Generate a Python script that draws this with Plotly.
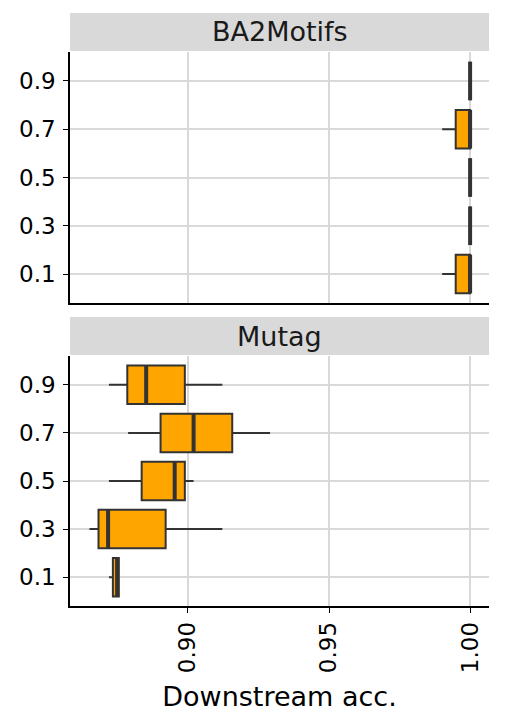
import plotly.graph_objects as go
from plotly.subplots import make_subplots

levels = ["0.1", "0.3", "0.5", "0.7", "0.9"]

# BA2Motifs downstream accuracy (box stats per level)
ba_lower = [0.9901, 1.0, 1.0, 0.9901, 1.0]
ba_q1 = [0.9949, 1.0, 1.0, 0.9949, 1.0]
ba_median = [1.0, 1.0, 1.0, 1.0, 1.0]
ba_q3 = [1.0, 1.0, 1.0, 1.0, 1.0]
ba_upper = [1.0, 1.0, 1.0, 1.0, 1.0]

# Mutag downstream accuracy
mu_lower = [0.8720, 0.8651, 0.8720, 0.8788, 0.8720]
mu_q1 = [0.8734, 0.8683, 0.8836, 0.8903, 0.8785]
mu_median = [0.8749, 0.8717, 0.8953, 0.9020, 0.8852]
mu_q3 = [0.8755, 0.8921, 0.8989, 0.9157, 0.8989]
mu_upper = [0.8755, 0.9122, 0.9020, 0.9291, 0.9122]

panels = [
    ("BA2Motifs", ba_lower, ba_q1, ba_median, ba_q3, ba_upper),
    ("Mutag", mu_lower, mu_q1, mu_median, mu_q3, mu_upper),
]

pos = list(range(len(levels)))
box_w = 0.8
edge = "#333333"
font = "DejaVu Sans"

fig = make_subplots(rows=2, cols=1, shared_xaxes=True, vertical_spacing=0.0)

for row, (name, lo, q1, med, q3, hi) in enumerate(panels, start=1):
    fig.add_trace(go.Box(
        y=pos, q1=q1, median=med, q3=q3, lowerfence=lo, upperfence=hi,
        orientation="h", width=box_w, whiskerwidth=0,
        fillcolor="#FFA500", line=dict(color=edge, width=2),
        boxpoints=False, showlegend=False,
    ), row=row, col=1)
    # thicker median bar, like ggplot
    mx, my = [], []
    for p, m in zip(pos, med):
        mx += [m, m, None]
        my += [p - box_w / 2, p + box_w / 2, None]
    fig.add_trace(go.Scatter(x=mx, y=my, mode="lines",
                             line=dict(color=edge, width=4),
                             showlegend=False, hoverinfo="skip"), row=row, col=1)

# page body has an 8px margin, so the figure is 8px smaller
W, HT = 499, 717
ml, mr, mt, mb = 62, 18, 44, 119
H = HT - mt - mb
top_dom = [(250 + 53) / H, 1.0]
bot_dom = [0.0, 250 / H]

xr = [0.8582, 1.0067]
ax_common = dict(range=xr, tickvals=[0.90, 0.95, 1.00], showgrid=True,
                 gridcolor="#d9d9d9", gridwidth=1.5, zeroline=False,
                 showline=True, linecolor="black", linewidth=1.5, mirror=False)
fig.update_xaxes(**ax_common)
fig.update_xaxes(showticklabels=False, ticks="", row=1, col=1)
fig.update_xaxes(ticks="outside", ticklen=5, tickcolor="black", tickwidth=1.2,
                 tickangle=-90, tickformat=".2f",
                 tickfont=dict(family=font, size=23, color="black"),
                 title=dict(text="Downstream acc.", standoff=15,
                            font=dict(family=font, size=27, color="black")),
                 row=2, col=1)

fig.update_yaxes(range=[-0.6, 4.6], tickvals=pos, ticktext=levels,
                 showgrid=True, gridcolor="#d9d9d9", gridwidth=1.5,
                 zeroline=False, showline=True, linecolor="black",
                 linewidth=1.5, ticks="outside", ticklen=5,
                 tickcolor="black", tickwidth=1.2, ticklabelstandoff=3,
                 tickfont=dict(family=font, size=23, color="black"))
fig.update_layout(yaxis=dict(domain=top_dom), yaxis2=dict(domain=bot_dom))

strip_h = 39 / H
for dom, name in [(top_dom, "BA2Motifs"), (bot_dom, "Mutag")]:
    fig.add_shape(type="rect", xref="paper", yref="paper",
                  x0=0, x1=1, y0=dom[1] + 1 / H, y1=dom[1] + strip_h,
                  fillcolor="#d9d9d9", line=dict(width=0), layer="below")
    fig.add_annotation(text=name, xref="paper", yref="paper", x=0.5,
                       y=dom[1] + (1 / H + strip_h) / 2, showarrow=False,
                       yanchor="middle",
                       font=dict(family=font, size=27, color="#1a1a1a"))

fig.update_layout(width=W, height=HT, plot_bgcolor="white",
                  paper_bgcolor="white",
                  margin=dict(l=ml, r=mr, t=mt, b=mb))

fig.write_html("out.html")
